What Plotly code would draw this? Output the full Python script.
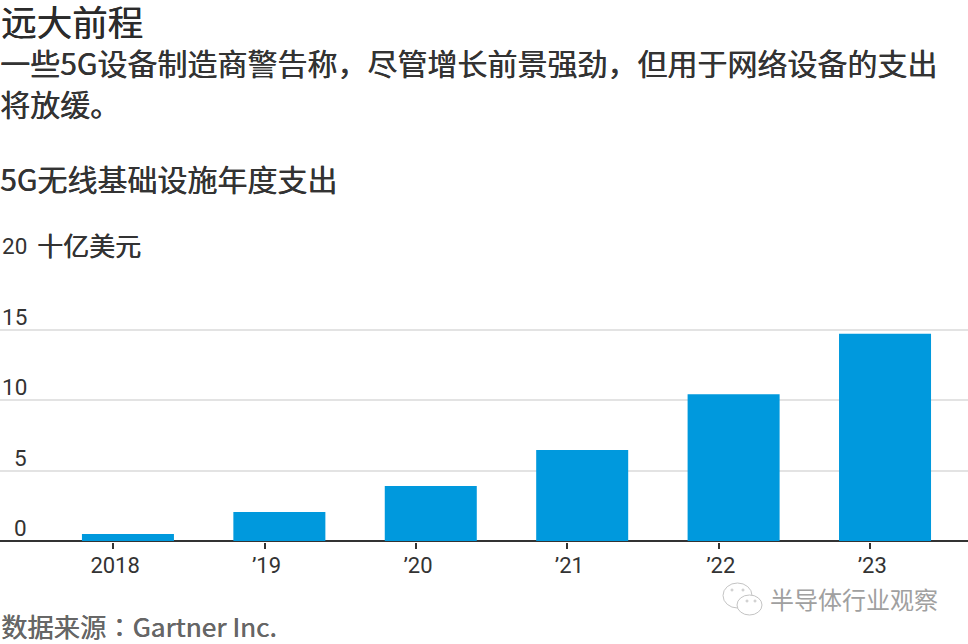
import plotly.graph_objects as go

categories = ["2018", "’19", "’20", "’21", "’22", "’23"]
values = [0.5, 2.05, 3.9, 6.45, 10.4, 14.7]
y_ticks = [0, 5, 10, 15, 20]
title = "远大前程"
subtitle_1 = "一些5G设备制造商警告称，尽管增长前景强劲，但用于网络设备的支出"
subtitle_2 = "将放缓。"
chart_title = "5G无线基础设施年度支出"
unit = "十亿美元"
source = "数据来源<span style=\"font-family:'Noto Sans CJK TC'\">：</span>Gartner Inc."
watermark = "半导体行业观察"

W, H = 968, 644
TOP, BOTTOM = 258, 542
PX_PER_UNIT = 14.1
Y_MIN = -1 / PX_PER_UNIT
Y_MAX = 20 + 1 / PX_PER_UNIT
CJK = "Noto Sans CJK SC"
NUM = "Roboto, " + CJK
DARK = "#333333"


def px(x):
    return x / W


def py(y):
    return (BOTTOM - y) / (BOTTOM - TOP)


fig = go.Figure(go.Bar(
    x=list(range(len(categories))), y=values, width=92 / 151.4,
    marker=dict(color="#0099dd", line=dict(width=0)), hoverinfo="skip",
))


def text(x, y, s, size, color=DARK, thicken=True):
    fig.add_annotation(
        x=px(x), y=py(y), xref="paper", yref="paper", text=s, showarrow=False,
        xanchor="left", yanchor="middle", borderpad=0,
        font=dict(family=CJK, size=size, color=color,
                  shadow=f"0.4px 0 0 {color}" if thicken else "none"),
    )


text(0, 20, title, 35.5, "#2b2b2b")
text(-1, 62, subtitle_1, 30, DARK)
text(-1, 103, subtitle_2, 30, DARK)
text(-1, 178, chart_title, 30, DARK)
text(36, 244, unit, 26, DARK)
text(0, 625, source, 26.3, "#666666")
text(769, 598, watermark, 24, "#a0a0a0", thicken=False)

# y tick labels sit just above their gridlines
for t in y_ticks:
    fig.add_annotation(
        x=px(28.5), xref="paper", y=t, yref="y", text=str(t), showarrow=False,
        xanchor="right", yanchor="bottom", yshift=-2,
        font=dict(family=NUM, size=22.5, color=DARK),
    )

# WeChat-style watermark icon
for x0, y0, x1, y1 in [(723, 583, 752, 608), (737, 595, 762, 615),
                       (731, 589, 733, 591), (742, 589, 744, 591),
                       (746, 600, 748, 602), (754, 600, 756, 602)]:
    fig.add_shape(
        type="circle", xref="paper", yref="paper",
        x0=px(x0), x1=px(x1), y0=py(y1), y1=py(y0),
        line=dict(color="#c4c4c4", width=1), fillcolor="white", layer="above",
    )

fig.update_layout(
    width=W, height=H, margin=dict(l=0, r=0, t=TOP, b=H - BOTTOM),
    plot_bgcolor="white", paper_bgcolor="white", showlegend=False,
    font=dict(family=CJK, color=DARK),
    xaxis=dict(
        range=[-0.845, 5.548], tickmode="array",
        tickvals=[i - 0.098 for i in range(len(categories))],
        ticktext=categories, ticks="outside", ticklen=6, tickwidth=1.5, tickcolor=DARK,
        showgrid=False, zeroline=False, showline=False,
        ticklabelshift=2, ticklabelstandoff=-2,
        tickfont=dict(family=NUM, size=22, color=DARK),
    ),
    yaxis=dict(
        range=[Y_MIN, Y_MAX], tickmode="array", tickvals=y_ticks, showticklabels=False,
        showgrid=True, gridcolor="#e3e3e3", gridwidth=1.5,
        zeroline=True, zerolinecolor=DARK, zerolinewidth=2,
    ),
)

fig.write_html(
    "out.html", config=dict(displayModeBar=False),
    post_script="document.body.style.margin='0';document.documentElement.style.overflow='hidden';",
)
